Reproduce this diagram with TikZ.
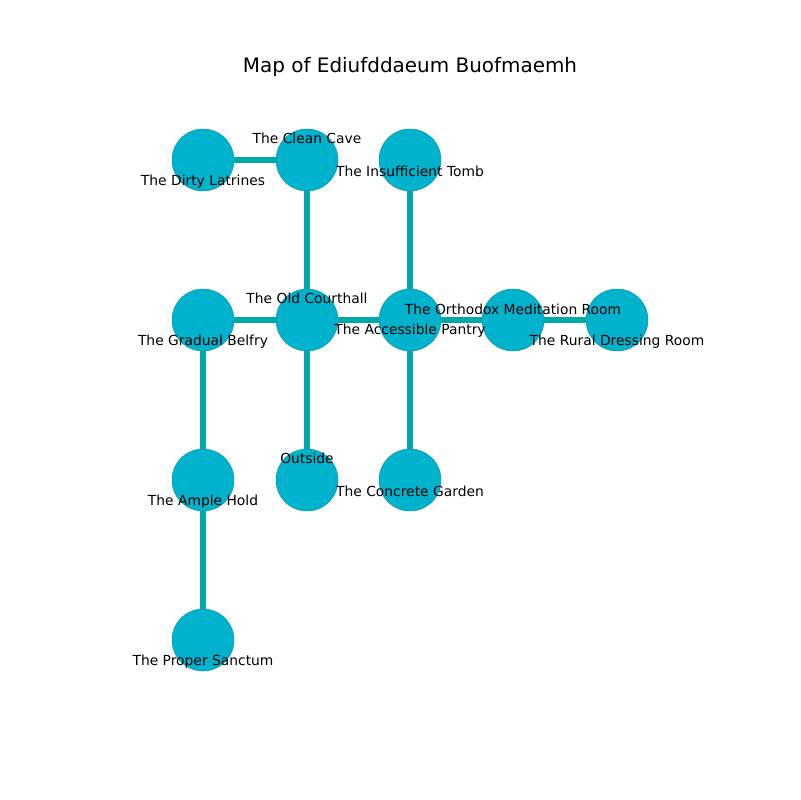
\documentclass[tikz,border=0pt]{standalone}
\usepackage{fontspec}
\setmainfont{DejaVu Sans}
\usetikzlibrary{positioning}
\definecolor{roomfill}{HTML}{00B2CC}
\definecolor{roomline}{HTML}{0090A8}
\definecolor{passage}{HTML}{00A8A8}

\begin{document}
\begin{tikzpicture}[x=0.01in,y=-0.01in]
	\tikzstyle{room}=[circle,draw=roomline,line width=0.3pt,fill=roomfill,minimum size=0.62in,inner sep=0pt]
	\tikzstyle{tag}=[font=\fontsize{10}{12}\selectfont,inner sep=0pt,anchor=center]
	\tikzstyle{link}=[draw=passage,line width=4pt]
	\useasboundingbox (0,0) rectangle (800,800);

	\node[font=\fontsize{14.4}{17}\selectfont] (title) at (410,67) {Map of Ediufddaeum Buofmaemh};

	% rooms
	\node[room] (latrines) at (203,160) {};
	\node[room] (cave) at (307,160) {};
	\node[room] (tomb) at (410,160) {};
	\node[room] (belfry) at (203,320) {};
	\node[room] (courthall) at (307,320) {};
	\node[room] (pantry) at (410,320) {};
	\node[room] (meditation) at (513,320) {};
	\node[room] (dressing) at (617,320) {};
	\node[room] (hold) at (203,480) {};
	\node[room] (outside) at (307,480) {};
	\node[room] (garden) at (410,480) {};
	\node[room] (sanctum) at (203,640) {};

	% passages
	\draw[link] (latrines) -- (cave);
	\draw[link] (cave) -- (courthall);
	\draw[link] (tomb) -- (pantry);
	\draw[link] (belfry) -- (courthall);
	\draw[link] (courthall) -- (pantry);
	\draw[link] (pantry) -- (meditation);
	\draw[link] (meditation) -- (dressing);
	\draw[link] (belfry) -- (hold);
	\draw[link] (courthall) -- (outside);
	\draw[link] (pantry) -- (garden);
	\draw[link] (hold) -- (sanctum);

	% names
	\node[tag] (latrines-l) at (203,182) {The Dirty Latrines};
	\node[tag] (cave-l) at (307,138) {The Clean Cave};
	\node[tag] (tomb-l) at (410,171) {The Insufficient Tomb};
	\node[tag] (belfry-l) at (203,342) {The Gradual Belfry};
	\node[tag] (courthall-l) at (307,298) {The Old Courthall};
	\node[tag] (pantry-l) at (410,331) {The Accessible Pantry};
	\node[tag] (meditation-l) at (513,309) {The Orthodox Meditation Room};
	\node[tag] (dressing-l) at (617,342) {The Rural Dressing Room};
	\node[tag] (hold-l) at (203,502) {The Ample Hold};
	\node[tag] (outside-l) at (307,458) {Outside};
	\node[tag] (garden-l) at (410,491) {The Concrete Garden};
	\node[tag] (sanctum-l) at (203,662) {The Proper Sanctum};
\end{tikzpicture}
\end{document}
